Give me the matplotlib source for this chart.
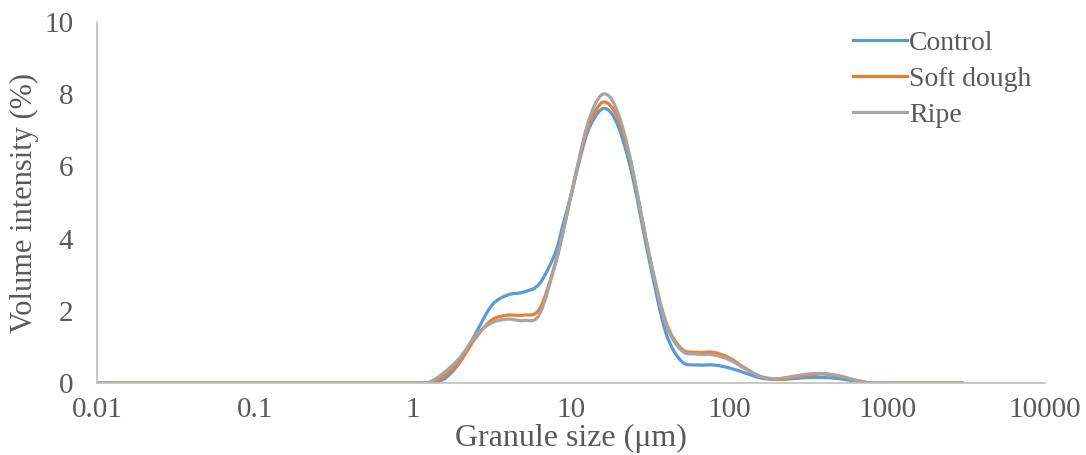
import numpy as np
import matplotlib.pyplot as plt
from matplotlib.path import Path
from matplotlib.patches import PathPatch

# log10 of granule size (µm) where values were read
log_size = [-2.0, -1.0, 0.0, 0.1, 0.2, 0.3, 0.4, 0.5, 0.6, 0.7, 0.8, 0.9, 0.95,
            1.0, 1.05, 1.1, 1.15, 1.2, 1.25, 1.3, 1.35, 1.4, 1.5, 1.6, 1.7,
            1.8, 1.9, 2.0, 2.1, 2.2, 2.3, 2.4, 2.5, 2.6, 2.7, 2.8, 2.9, 3.0, 3.48]

control = [0, 0, 0, 0, 0.12, 0.6, 1.4, 2.16, 2.44, 2.52, 2.75, 3.6, 4.4,
           5.2, 6.1, 6.9, 7.35, 7.6, 7.5, 7.1, 6.4, 5.5, 3.3, 1.4, 0.6,
           0.5, 0.5, 0.42, 0.28, 0.14, 0.1, 0.12, 0.15, 0.15, 0.12, 0.05, 0, 0, 0]
soft_dough = [0, 0, 0, 0, 0.2, 0.62, 1.27, 1.75, 1.88, 1.88, 2.05, 3.3, 4.2,
              5.2, 6.15, 7.0, 7.5, 7.78, 7.68, 7.3, 6.6, 5.65, 3.45, 1.7, 0.95,
              0.85, 0.85, 0.7, 0.42, 0.18, 0.1, 0.15, 0.22, 0.25, 0.18, 0.08, 0, 0, 0]
ripe = [0, 0, 0, 0.02, 0.3, 0.72, 1.33, 1.67, 1.77, 1.73, 1.9, 3.3, 4.2,
        5.2, 6.2, 7.1, 7.7, 8.0, 7.9, 7.45, 6.7, 5.7, 3.45, 1.65, 0.9,
        0.8, 0.78, 0.65, 0.4, 0.18, 0.12, 0.18, 0.25, 0.26, 0.2, 0.08, 0, 0, 0]

x_ticks = [0.01, 0.1, 1, 10, 100, 1000, 10000]
x_tick_labels = ["0.01", "0.1", "1", "10", "100", "1000", "10000"]
y_ticks = [0, 2, 4, 6, 8, 10]

plt.rcParams["font.family"] = ["Liberation Serif", "DejaVu Serif"]
text_color = "#595959"


def smooth_path(lx, y):
    # Excel-like smoothed line: Catmull-Rom bezier through the points (in log-x space)
    lx = np.asarray(lx, float)
    y = np.asarray(y, float)
    pts = np.column_stack([lx, y])
    verts = [pts[0]]
    codes = [Path.MOVETO]
    n = len(pts)
    for i in range(n - 1):
        p0 = pts[max(i - 1, 0)]
        p1 = pts[i]
        p2 = pts[i + 1]
        p3 = pts[min(i + 2, n - 1)]
        c1 = p1 + (p2 - p0) / 6.0
        c2 = p2 - (p3 - p1) / 6.0
        verts += [c1, c2, p2]
        codes += [Path.CURVE4] * 3
    verts = np.array(verts)
    verts[:, 0] = 10 ** verts[:, 0]
    return Path(verts, codes)


fig = plt.figure(figsize=(10.86, 4.55), dpi=100)
ax = fig.add_axes([0.0893, 0.1582, 0.873, 0.7934])

series = [("Control", control, "#5B9BD5"),
          ("Soft dough", soft_dough, "#ED7D31"),
          ("Ripe", ripe, "#A5A5A5")]
for name, vals, col in series:
    ax.add_patch(PathPatch(smooth_path(log_size, vals), facecolor="none",
                           edgecolor=col, lw=2.3, capstyle="round", joinstyle="round"))
    ax.plot([], [], color=col, lw=2.3, label=name)

ax.set_xscale("log")
ax.set_xlim(0.01, 10000)
ax.set_ylim(0, 10)
ax.set_xticks(x_ticks)
ax.set_xticklabels(x_tick_labels)
ax.minorticks_off()
ax.set_yticks(y_ticks)

for side in ["top", "right"]:
    ax.spines[side].set_visible(False)
for side in ["left", "bottom"]:
    ax.spines[side].set_color("#BFBFBF")
    ax.spines[side].set_linewidth(1.2)

ax.tick_params(axis="both", length=0, labelsize=21, colors=text_color)
ax.tick_params(axis="x", pad=10)
ax.tick_params(axis="y", pad=17)

ax.set_xlabel("Granule size (\u03bcm)", fontsize=23, color=text_color, labelpad=1)
ax.set_ylabel("Volume intensity (%)", fontsize=22, color=text_color, labelpad=4)

ax.legend(loc="upper left", bbox_to_anchor=(0.771, 1.045), frameon=False,
          fontsize=20, handlelength=1.93, handletextpad=0.1, labelspacing=0.37,
          labelcolor=text_color)

fig.savefig("out.png", dpi=100)
